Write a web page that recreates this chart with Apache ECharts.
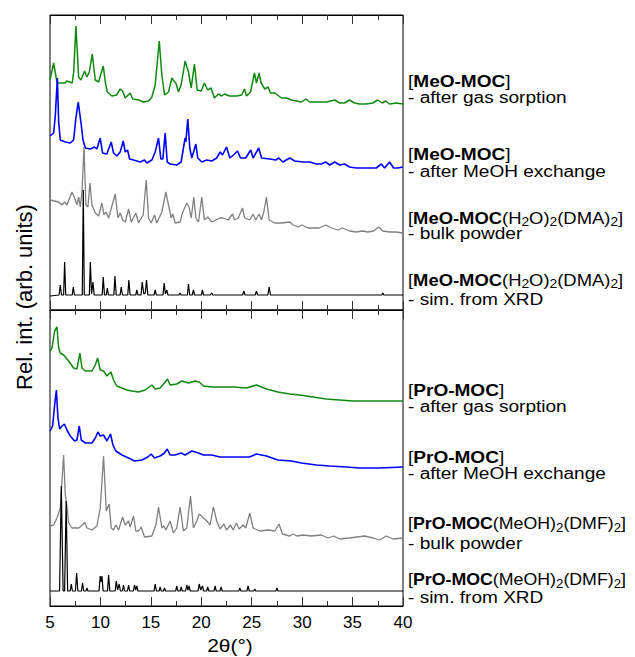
<!DOCTYPE html>
<html><head><meta charset="utf-8">
<script src="https://cdn.jsdelivr.net/npm/echarts@6/dist/echarts.min.js"></script>
<style>html,body{margin:0;padding:0;background:#fff}#c{width:635px;height:657px}</style>
</head><body><div id="c"></div><script>
// ---- data ----
const xTicks = [5, 10, 15, 20, 25, 30, 35, 40];
const xTitle = '2θ(°)';
const yTitle = 'Rel. int. (arb. units)';

// top panel (MeO-MOC), [2theta, offset intensity]
const meoGas = [[5.0,230],[5.36,247],[5.7,227],[6.5,227],[6.65,229],[7.2,227],[7.35,238],[7.57,284],[7.84,233],[8.07,230],[8.43,239],[8.66,233],[8.9,238],[9.19,256],[9.49,230],[9.82,228],[10.28,244],[10.48,228],[10.68,218],[11.14,214],[11.6,215],[11.96,221],[12.2,219],[12.46,212],[12.95,217],[13.2,211],[13.78,210],[14.27,208],[14.77,209],[15.1,213],[15.43,225],[15.83,269],[16.09,235],[16.36,215],[16.75,218],[17.08,232],[17.28,229],[17.48,227],[17.74,218],[18.0,225],[18.4,249],[18.73,238],[19.0,222],[19.32,246],[19.59,220],[19.98,219],[20.31,227],[20.64,220],[20.97,222],[21.3,212],[21.7,216],[22.03,214],[22.3,216],[22.8,214],[23.5,214],[24.0,215],[24.28,221],[24.48,214],[24.88,218],[25.27,237],[25.47,227],[25.73,237],[25.93,227],[26.3,221],[26.63,223],[26.86,217],[27.29,217],[27.95,212],[28.44,212],[28.94,210],[29.43,209],[29.93,208],[30.36,211],[30.75,208],[31.74,208],[32.4,208],[33.23,210],[33.72,207],[34.2,207],[34.7,210],[35.2,207],[35.7,206],[36.36,206],[37.0,207],[37.5,210],[37.94,207],[38.27,209],[38.67,206],[39.33,207],[40,206]];
const meoMeOH = [[5.0,174],[5.36,177],[5.53,195],[5.73,232],[5.86,188],[6.02,170],[6.52,168],[7.01,167],[7.34,170],[7.57,192],[7.8,208],[7.97,195],[8.1,185],[8.27,170],[8.5,162],[9.0,161],[9.42,163],[9.65,161],[9.98,172],[10.21,157],[10.64,156],[11.07,168],[11.3,157],[11.63,154],[11.96,158],[12.26,169],[12.46,158],[12.69,160],[12.89,151],[13.28,150],[13.94,148],[14.37,150],[14.6,147],[15.1,150],[15.43,158],[15.76,172],[15.99,151],[16.19,151],[16.42,177],[16.62,148],[16.91,146],[17.57,145],[18.0,148],[18.23,162],[18.4,172],[18.47,168],[18.66,191],[18.86,162],[19.06,152],[19.46,166],[19.65,152],[20.05,148],[20.54,150],[21.04,149],[21.53,152],[21.86,158],[22.1,155],[22.5,163],[22.83,152],[23.2,155],[23.59,159],[23.89,152],[24.41,152],[24.9,160],[25.14,152],[25.7,162],[25.97,152],[26.79,151],[27.38,150],[27.68,152],[28.1,148],[28.77,152],[29.27,149],[30.09,148],[30.75,148],[31.41,146],[31.9,146],[32.33,148],[32.73,145],[33.23,148],[33.72,145],[34.2,146],[34.7,143],[35.37,142],[36.03,142],[36.86,142],[37.35,142],[37.85,146],[38.18,142],[38.67,148],[39.07,142],[39.5,142],[40,143]];
const meoBulk = [[5.0,110],[5.86,108],[6.19,105],[6.45,108],[6.68,105],[7.18,118],[7.44,112],[7.67,105],[7.84,113],[8.0,103],[8.17,118],[8.37,163],[8.56,105],[8.76,103],[8.96,127],[9.16,105],[9.49,97],[9.82,94],[10.15,107],[10.35,95],[10.54,98],[10.81,92],[11.47,116],[11.73,92],[11.96,97],[12.2,90],[12.46,88],[12.79,101],[13.05,88],[13.51,97],[13.78,87],[14.04,92],[14.24,95],[14.54,130],[14.77,92],[15.03,87],[15.36,95],[15.59,87],[16.09,98],[16.49,118],[16.75,105],[17.02,92],[17.18,96],[17.41,87],[17.9,88],[18.13,97],[18.56,107],[18.79,103],[19.0,92],[19.26,113],[19.46,92],[19.72,88],[20.05,113],[20.31,90],[20.64,93],[21.04,88],[21.43,90],[21.86,92],[22.17,92],[22.67,90],[23.1,96],[23.3,90],[23.66,92],[24.08,102],[24.3,92],[24.8,90],[25.14,96],[25.4,90],[25.73,96],[25.97,90],[26.2,98],[26.46,113],[26.73,90],[27.29,87],[27.95,87],[28.77,88],[29.1,85],[29.6,83],[30.0,85],[30.58,82],[31.08,82],[31.67,82],[32.33,85],[32.9,82],[33.55,80],[34.0,82],[34.7,79],[35.37,78],[36.0,79],[36.5,78],[37.08,79],[37.6,83],[38.0,79],[38.67,78],[39.33,78],[40,77]];
const meoSim = [[5,14],[5.9,15],[6.02,25],[6.14,15],[6.35,15],[6.45,48],[6.56,15],[7.2,15],[7.31,23],[7.42,15],[8.2,15],[8.3,120],[8.4,15],[8.9,15],[9.0,48],[9.12,16],[9.26,28],[9.38,15],[10.17,15],[10.28,33],[10.4,15],[10.58,15],[10.68,22],[10.8,15],[11.33,15],[11.44,34],[11.56,15],[11.95,15],[12.06,23],[12.18,15],[12.71,15],[12.82,30],[12.94,15],[13.5,15],[13.61,20],[13.72,15],[14.03,15],[14.14,28],[14.3,16],[14.45,17],[14.57,30],[14.7,15],[15.32,15],[15.43,20],[15.55,15],[16.2,15],[16.32,27],[16.44,16],[16.58,20],[16.7,15],[17.8,15],[17.9,17],[18.0,15],[18.62,15],[18.73,26],[18.85,15],[19.1,15],[19.22,20],[19.34,15],[20.0,15],[20.11,20],[20.23,15],[20.9,15],[21.04,17],[21.15,15],[24.1,15],[24.22,19],[24.34,15],[25.35,15],[25.47,19],[25.59,15],[26.6,15],[26.73,23],[26.86,15],[30,15],[32,15],[37.9,15],[38.0,17],[38.1,15],[40,15]];

// bottom panel (PrO-MOC)
const proGas = [[5.0,255],[5.2,258],[5.46,275],[5.69,279],[5.86,258],[6.02,253],[6.35,251],[6.85,245],[7.34,238],[7.67,237],[7.97,253],[8.17,238],[8.5,235],[9.16,235],[9.49,241],[9.72,248],[9.98,236],[10.31,235],[10.64,230],[11.04,234],[11.3,226],[11.63,220],[12.13,218],[12.62,216],[13.12,215],[13.78,214],[14.44,216],[14.83,219],[15.1,221],[15.43,217],[15.92,218],[16.35,223],[16.65,227],[16.91,221],[17.57,222],[18.07,225],[18.73,223],[19.39,225],[19.79,224],[20.21,220],[21.04,219],[21.84,219],[23.16,219],[24.48,218],[25.47,221],[26.46,217],[27.6,214],[28.77,212],[29.76,211],[31.08,209],[32.4,207],[33.72,206],[35.04,205],[36.36,205],[38.34,205],[40,205]];
const proMeOH = [[5.0,175],[5.26,180],[5.46,201],[5.63,216],[5.79,188],[5.96,177],[6.19,180],[6.42,182],[6.68,176],[7.01,170],[7.44,165],[7.67,166],[7.9,180],[8.1,166],[8.5,163],[9.16,163],[9.49,168],[9.75,174],[9.98,170],[10.31,171],[10.64,165],[11.0,172],[11.24,161],[11.53,155],[12.13,151],[12.79,148],[13.38,145],[14.11,146],[14.7,149],[15.03,152],[15.36,148],[15.92,150],[16.35,153],[16.62,157],[16.91,151],[17.41,151],[18.0,153],[18.4,151],[19.06,155],[19.72,153],[20.21,151],[21.04,151],[21.84,149],[23.5,149],[24.8,149],[25.47,152],[26.46,150],[27.6,146],[28.94,145],[29.93,143],[31.41,141],[32.73,140],[34.38,139],[35.7,138],[37.68,138],[40,139]];
const proBulk = [[5.0,80],[5.36,81],[5.69,88],[6.02,98],[6.35,151],[6.52,111],[6.68,100],[6.85,83],[7.18,78],[7.84,78],[8.23,81],[8.43,84],[8.66,78],[9.16,76],[9.65,80],[9.98,98],[10.31,150],[10.58,95],[10.87,102],[11.07,78],[11.3,76],[11.53,81],[11.8,76],[12.2,89],[12.46,81],[12.79,85],[12.95,79],[13.28,90],[13.51,75],[13.78,75],[14.04,79],[14.37,69],[15.1,70],[15.5,81],[15.76,99],[16.09,78],[16.29,80],[16.49,76],[16.91,85],[17.24,73],[17.57,78],[17.9,99],[18.23,75],[18.56,78],[18.93,110],[19.22,78],[19.55,85],[19.79,92],[20.12,89],[20.54,85],[20.87,81],[21.2,99],[21.53,85],[21.86,77],[22.24,82],[22.5,76],[22.9,81],[23.16,76],[23.49,83],[23.75,77],[24.15,81],[24.41,78],[24.81,93],[25.14,78],[25.8,75],[26.63,76],[27.29,75],[27.71,82],[28.04,72],[28.77,70],[29.1,72],[29.5,70],[30.09,71],[30.92,70],[31.9,71],[32.57,68],[33.13,70],[33.72,67],[34.7,68],[36.2,70],[37.02,68],[37.68,66],[38.34,70],[39.0,67],[40,68]];
const proSim = [[5,15],[5.95,15],[6.12,120],[6.3,15],[6.45,15],[6.6,105],[6.75,15],[7.0,15],[7.11,22],[7.22,15],[7.52,15],[7.64,33],[7.76,15],[8.12,15],[8.23,23],[8.34,15],[8.56,15],[8.66,18],[8.76,15],[9.86,15],[9.98,30],[10.07,24],[10.15,30],[10.27,15],[10.7,15],[10.81,31],[10.93,15],[11.46,15],[11.57,25],[11.7,16],[11.86,22],[11.98,15],[12.18,15],[12.29,21],[12.4,15],[12.68,15],[12.79,21],[12.9,15],[13.27,15],[13.38,21],[13.5,16],[13.61,20],[13.72,15],[15.32,15],[15.43,22],[15.55,15],[15.82,15],[15.92,19],[16.03,15],[16.25,15],[16.35,18],[16.46,15],[17.46,15],[17.57,20],[17.68,15],[17.9,15],[18.0,19],[18.11,15],[18.45,15],[18.56,21],[18.68,16],[18.79,20],[18.9,15],[19.68,15],[19.79,22],[19.95,16],[20.12,20],[20.24,15],[20.53,15],[20.64,19],[20.75,15],[21.26,15],[21.37,20],[21.48,15],[21.86,15],[21.96,19],[22.07,15],[23.72,15],[23.82,18],[23.93,15],[24.53,15],[24.64,20],[24.75,15],[25.2,15],[25.3,17],[25.4,15],[27.4,15],[27.5,18],[27.6,15],[40,15]];

// right-side labels (rich text), in order top to bottom
const labelTexts = [
  '{n|[}{b|MeO-MOC}{n|]}', '{n|- after gas sorption}',
  '{n|[}{b|MeO-MOC}{n|]}', '{n|- after MeOH exchange}',
  '{n|[}{b|MeO-MOC}{n|(H}{s|2}{n|O)}{s|2}{n|(DMA)}{s|2}{n|]}', '{n|- bulk powder}',
  '{n|[}{b|MeO-MOC}{n|(H}{s|2}{n|O)}{s|2}{n|(DMA)}{s|2}{n|]}', '{n|- sim. from XRD}',
  '{n|[}{b|PrO-MOC}{n|]}', '{n|- after gas sorption}',
  '{n|[}{b|PrO-MOC}{n|]}', '{n|- after MeOH exchange}',
  '{n|[}{b|PrO-MOC}{n|(MeOH)}{s|2}{n|(DMF)}{s|2}{n|]}', '{n|- bulk powder}',
  '{n|[}{b|PrO-MOC}{n|(MeOH)}{s|2}{n|(DMF)}{s|2}{n|]}', '{n|- sim. from XRD}'
];

// ---- layout / style ----
const labelY = [82, 98, 155, 172, 218, 234, 280, 300, 391, 407, 458, 474, 524, 544, 580, 598];
const labelSX = [1.19, 1.19, 1.19, 1.19, 1.15, 1.19, 1.15, 1.19, 1.19, 1.19, 1.19, 1.19, 1.11, 1.19, 1.11, 1.19];
const FONT = 'Liberation Sans, Arial, sans-serif';

const chart = echarts.init(document.getElementById('c'), null, {renderer: 'svg'});

function xAx(gridIndex, position, showLabels) {
  return {
    type: 'value', gridIndex: gridIndex, position: position,
    min: xTicks[0], max: xTicks[xTicks.length - 1], interval: 5,
    axisLine: {show: true, onZero: false, lineStyle: {color: '#000', width: 1}},
    axisTick: {show: true, inside: true, length: 9, lineStyle: {color: '#333'}},
    minorTick: {show: true, splitNumber: 2, length: 5, lineStyle: {color: '#333'}},
    splitLine: {show: false}, minorSplitLine: {show: false},
    axisLabel: {show: showLabels, color: '#000', fontSize: 17, fontFamily: FONT, margin: 8}
  };
}
function line(data, color, width, xi, yi) {
  return {type: 'line', data: data, xAxisIndex: xi, yAxisIndex: yi, showSymbol: false, symbol: 'none',
    animation: false, lineStyle: {color: color, width: width}, itemStyle: {color: color}, z: 2};
}

const rich = {
  n: {fontSize: 16, fontFamily: FONT, fill: '#000', lineHeight: 18},
  b: {fontSize: 16, fontFamily: FONT, fontWeight: 'bold', fill: '#000', lineHeight: 18},
  s: {fontSize: 12, fontFamily: FONT, fill: '#000', lineHeight: 12, padding: [8, 0, 0, 0]}
};

const graphics = labelTexts.map((t, i) => ({
  type: 'text', x: 408, y: labelY[i], scaleX: labelSX[i], scaleY: 1,
  style: {text: t, rich: rich, align: 'left', verticalAlign: 'middle', fontSize: 16, fontFamily: FONT, fill: '#000'}
}));
graphics.push({
  type: 'text', x: 230, y: 645, scaleX: 1.1,
  style: {text: xTitle, align: 'center', verticalAlign: 'middle', fontSize: 19, fontFamily: FONT, fill: '#000'}
});
graphics.push({
  type: 'text', x: 24, y: 297, rotation: Math.PI / 2,
  style: {text: yTitle, align: 'center', verticalAlign: 'middle', fontSize: 22, fontFamily: FONT, fill: '#000'}
});

chart.setOption({
  animation: false,
  backgroundColor: '#fff',
  grid: [
    {left: 50, right: 232, top: 15, height: 295, show: true, borderColor: '#000', borderWidth: 1, backgroundColor: 'transparent'},
    {left: 50, right: 232, top: 310, height: 296, show: true, borderColor: '#000', borderWidth: 1, backgroundColor: 'transparent'}
  ],
  xAxis: [xAx(0, 'bottom', false), xAx(0, 'top', false), xAx(1, 'top', false), xAx(1, 'bottom', true)],
  yAxis: [
    {type: 'value', gridIndex: 0, min: 0, max: 295, show: false},
    {type: 'value', gridIndex: 1, min: 0, max: 296, show: false}
  ],
  series: [
    line(meoGas, '#108810', 1.5, 0, 0),
    line(meoMeOH, '#0000ff', 1.6, 0, 0),
    line(meoBulk, '#808080', 1.3, 0, 0),
    line(meoSim, '#000000', 1.2, 0, 0),
    line(proGas, '#108810', 1.5, 3, 1),
    line(proMeOH, '#0000ff', 1.6, 3, 1),
    line(proBulk, '#808080', 1.3, 3, 1),
    line(proSim, '#000000', 1.2, 3, 1)
  ],
  graphic: graphics
});
</script></body></html>
